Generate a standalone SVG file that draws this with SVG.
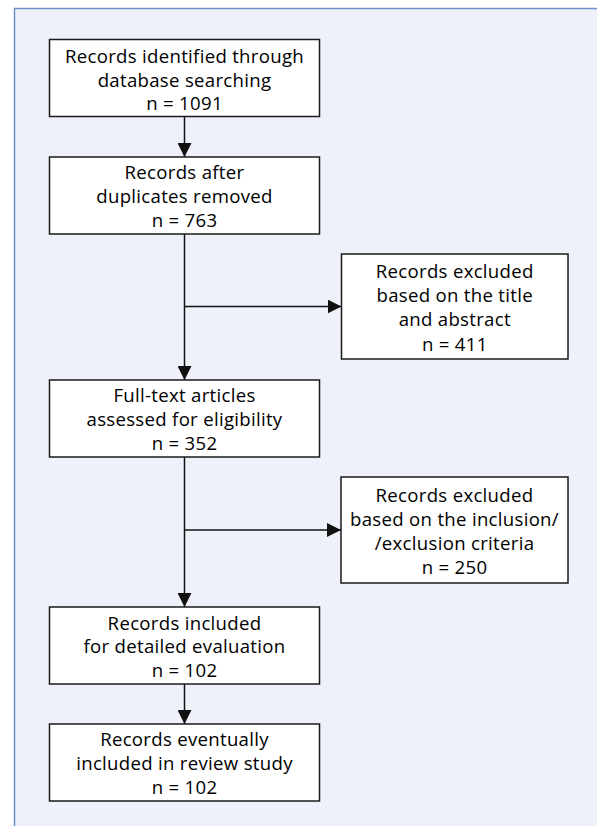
<svg xmlns="http://www.w3.org/2000/svg" width="597" height="826" viewBox="0 0 597 826">
<style>
.box{fill:#ffffff;stroke:#1a1a1a;stroke-width:1.5}
.t{font-family:"Open Sans","Noto Sans","DejaVu Sans",sans-serif;font-size:18.6px;fill:#000;text-anchor:middle;letter-spacing:0.3px}
.ln{fill:none;stroke:#111;stroke-width:1.5}
</style>
<defs>
<marker id="ah" markerWidth="14" markerHeight="14" viewBox="0 0 14 14" refX="14" refY="7" orient="auto" markerUnits="userSpaceOnUse">
<path d="M0,0 L14,7 L0,14 Z" fill="#111"/>
</marker>
</defs>
<rect x="0" y="0" width="597" height="826" fill="#ffffff"/>
<rect x="14" y="8" width="590" height="830" fill="#eef1f9"/>
<path d="M14.5,826 V8.5 H597" fill="none" stroke="#6b8fc6" stroke-width="1.5"/>
<g id="connectors">
<line class="ln" x1="184.5" y1="117" x2="184.5" y2="157" marker-end="url(#ah)"/>
<line class="ln" x1="184.5" y1="234" x2="184.5" y2="380" marker-end="url(#ah)"/>
<line class="ln" x1="184.5" y1="306.5" x2="341.5" y2="306.5" marker-end="url(#ah)"/>
<line class="ln" x1="184.5" y1="457" x2="184.5" y2="607" marker-end="url(#ah)"/>
<line class="ln" x1="184.5" y1="530" x2="341" y2="530" marker-end="url(#ah)"/>
<line class="ln" x1="184.5" y1="684" x2="184.5" y2="724" marker-end="url(#ah)"/>
</g>
<g id="n1">
<rect class="box" x="49.5" y="39.5" width="270" height="77"/>
<text class="t" x="184.5" y="63">Records identified through</text>
<text class="t" x="184.5" y="86.5">database searching</text>
<text class="t" x="184.5" y="110">n = 1091</text>
</g>
<g id="n2">
<rect class="box" x="49.5" y="157" width="270" height="77"/>
<text class="t" x="184.5" y="178.5">Records after</text>
<text class="t" x="184.5" y="202.5">duplicates removed</text>
<text class="t" x="184.5" y="226.5">n = 763</text>
</g>
<g id="n3">
<rect class="box" x="341.5" y="254" width="226.5" height="105"/>
<text class="t" x="454.75" y="277.5">Records excluded</text>
<text class="t" x="454.75" y="302">based on the title</text>
<text class="t" x="454.75" y="326">and abstract</text>
<text class="t" x="454.75" y="350.5">n = 411</text>
</g>
<g id="n4">
<rect class="box" x="49.5" y="380" width="270" height="77"/>
<text class="t" x="184.5" y="402">Full-text articles</text>
<text class="t" x="184.5" y="425.5">assessed for eligibility</text>
<text class="t" x="184.5" y="449.5">n = 352</text>
</g>
<g id="n5">
<rect class="box" x="341" y="477" width="227" height="106"/>
<text class="t" x="454.5" y="501.5">Records excluded</text>
<text class="t" x="454.5" y="526">based on the inclusion/</text>
<text class="t" x="454.5" y="550">/exclusion criteria</text>
<text class="t" x="454.5" y="573.5">n = 250</text>
</g>
<g id="n6">
<rect class="box" x="49.5" y="607" width="270" height="77"/>
<text class="t" x="184.5" y="629.5">Records included</text>
<text class="t" x="184.5" y="653">for detailed evaluation</text>
<text class="t" x="184.5" y="677">n = 102</text>
</g>
<g id="n7">
<rect class="box" x="49.5" y="724" width="270" height="77"/>
<text class="t" x="184.5" y="745.5">Records eventually</text>
<text class="t" x="184.5" y="770">included in review study</text>
<text class="t" x="184.5" y="793.5">n = 102</text>
</g>
</svg>
